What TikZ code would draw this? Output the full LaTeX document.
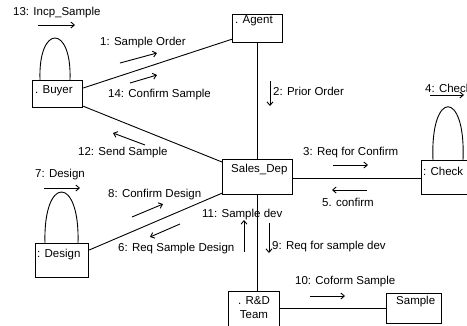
\documentclass[tikz,border=0pt]{standalone}
\usepackage{fontspec}
\setmainfont{Liberation Sans}
\usetikzlibrary{arrows.meta,calc}
\begin{document}
\begin{tikzpicture}[x=1pt,y=-1pt,
  box/.style={draw,line width=1.2pt,rectangle,inner sep=0pt,anchor=north west},
  txt/.style={font=\fontsize{11.5}{13}\selectfont,inner sep=0pt,anchor=west},
  link/.style={line width=0.9pt},
  msg/.style={line width=0.9pt,-{Straight Barb[length=3.5pt,width=6pt]}},
  loopline/.style={line width=0.9pt}]
\useasboundingbox (0,0) rectangle (467,325);
% boxes
\node[box,minimum width=50pt,minimum height=28pt] (agent) at (232,14) {};
\node[txt] (agentl) at (235,21) {. Agent};
\node[box,minimum width=50pt,minimum height=27pt] (buyer) at (32,80) {};
\node[txt] (buyerl) at (35,91) {. Buyer};
\node[box,minimum width=70pt,minimum height=35pt] (sales) at (222,159) {};
\node[txt] (salesl) at (231,170) {Sales\_Dep};
\node[box,minimum width=60pt,minimum height=34pt] (check) at (421,160) {};
\node[txt] (checkl) at (423,171) {: Check};
\node[box,minimum width=53pt,minimum height=34pt] (design) at (35,243) {};
\node[txt] (designl) at (37,255) {: Design};
\node[box,minimum width=51pt,minimum height=36pt] (rd) at (228,291) {};
\node[txt,anchor=center] (rdl) at (254,301) {. R\&D};
\node[txt,anchor=center] (rdl2) at (254,315) {Team};
\node[box,minimum width=55pt,minimum height=30pt] (sample) at (386,293) {};
\node[txt] (samplel) at (396,302) {Sample};
% self loops
\draw[loopline] ($(buyer.north west)+(8,0)$) .. controls +(-2,-56) and +(2,-56) .. ($(buyer.north west)+(38,0)$);
\draw[loopline] ($(check.north west)+(12,0)$) .. controls +(-3,-71) and +(3,-71) .. ($(check.north west)+(42,0)$);
\draw[loopline] ($(design.north west)+(10,0)$) .. controls +(-2,-68) and +(2,-68) .. ($(design.north west)+(43,0)$);
% links
\draw[link] ($(buyer.north east)+(0,8)$) -- ($(agent.south west)+(0,-4)$);
\draw[link] ($(buyer.south east)+(0,-2)$) -- ($(sales.north west)+(0,3)$);
\draw[link] ($(design.north east)+(0,7)$) -- ($(sales.south west)+(0,-2)$);
\draw[link] (agent.south -| sales.north) -- (sales.north);
\draw[link] ($(sales.east)+(0,1)$) -- ($(sales.east -| check.west)+(0,1)$);
\draw[link] (sales.south) -- (sales.south |- rd.north);
\draw[link] ($(rd.east)+(0,-1)$) -- ($(rd.east -| sample.west)+(0,-1)$);
% messages
\node[txt] (m13) at (13,13) {13: Incp\_Sample};
\draw[msg] (38,25) -- (75,25);
\node[txt] (m1) at (100,43) {1: Sample Order};
\draw[msg] (120,63) -- (157,53);
\node[txt] (m14) at (108,95) {14: Confirm Sample};
\draw[msg] (130,83) -- (157,75);
\node[txt] (m2) at (273,91) {2: Prior Order};
\draw[msg] (270,81) -- (270,106);
\node[txt] (m12) at (78,153) {12: Send Sample};
\draw[msg] (145,145) -- (113,133);
\node[txt] (m4) at (425,88) {4: Check};
\draw[msg] (430,95) -- (464,95);
\node[txt] (m3) at (303,153) {3: Req for Confirm};
\draw[msg] (333,165) -- (368,165);
\node[txt] (m5) at (322,202) {5. confirm};
\draw[msg] (367,190) -- (332,190);
\node[txt] (m7) at (35,175) {7: Design};
\draw[msg] (44,188) -- (80,188);
\node[txt] (m8) at (108,195) {8: Confirm Design};
\draw[msg] (132,217) -- (163,204);
\node[txt] (m6) at (118,249) {6: Req Sample Design};
\draw[msg] (180,224) -- (150,237);
\node[txt] (m11) at (202,215) {11: Sample dev};
\draw[msg] (244,252) -- (244,220);
\node[txt] (m9) at (272,247) {9: Req for sample dev};
\draw[msg] (269,223) -- (269,253);
\node[txt] (m10) at (295,282) {10: Coform Sample};
\draw[msg] (310,296) -- (345,296);
\end{tikzpicture}
\end{document}
